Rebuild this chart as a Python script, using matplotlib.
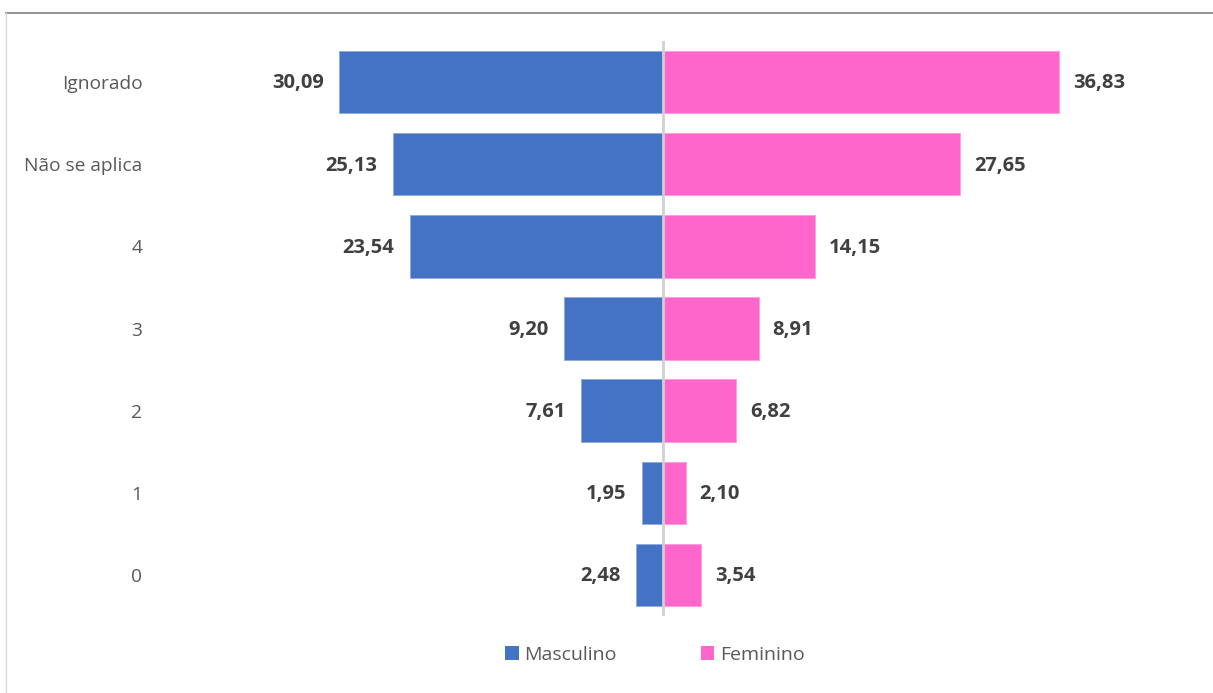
import matplotlib.pyplot as plt
import numpy as np
from matplotlib.lines import Line2D
from matplotlib.patches import Patch

plt.rcParams['font.family'] = ['Open Sans', 'DejaVu Sans']

# Dados (de baixo para cima)
categorias = ['0', '1', '2', '3', '4', 'Não se aplica', 'Ignorado']
masculino = [2.48, 1.95, 7.61, 9.20, 23.54, 25.13, 30.09]
feminino = [3.54, 2.10, 6.82, 8.91, 14.15, 27.65, 36.83]

cor_masc = '#4472C4'
cor_fem = '#FF66CC'
cinza_txt = '#595959'

W, H = 1213, 693
fig = plt.figure(figsize=(W / 100, H / 100), dpi=100)
ax = fig.add_axes([180 / W, (H - 616) / H, 966 / W, 575 / H])

y = np.arange(len(categorias))
altura = 0.76
b_m = ax.barh(y, [-v for v in masculino], altura, color=cor_masc, edgecolor='#8FAADC', linewidth=0.6)
b_f = ax.barh(y, feminino, altura, color=cor_fem, edgecolor='#FF99DD', linewidth=0.6)

def fmt(v):
    return f'{v:.2f}'.replace('.', ',')

for barra, v in zip(b_m, masculino):
    ax.annotate(fmt(v), xy=(-v, barra.get_y() + barra.get_height() / 2),
                xytext=(-11, -1), textcoords='offset points',
                ha='right', va='center', fontsize=14.5, fontweight='bold', color='#404040')
for barra, v in zip(b_f, feminino):
    ax.annotate(fmt(v), xy=(v, barra.get_y() + barra.get_height() / 2),
                xytext=(10, -1), textcoords='offset points',
                ha='left', va='center', fontsize=14.5, fontweight='bold', color='#404040')

ax.axvline(0, color='#D0D0D0', linewidth=2, zorder=3)

ax.set_xlim(-44.9, 44.9)
ax.set_ylim(-0.5, 6.5)
ax.set_yticks(y)
ax.set_yticklabels(categorias)
ax.tick_params(axis='y', length=0, pad=27, labelsize=13.8, labelcolor=cinza_txt)
ax.set_xticks([])
for s in ax.spines.values():
    s.set_visible(False)

# Legenda
handles = [Patch(facecolor=cor_masc, label='Masculino'),
           Patch(facecolor=cor_fem, label='Feminino')]
fig.legend(handles=handles, loc='center', bbox_to_anchor=(655 / W, (H - 655) / H),
           ncol=2, frameon=False, fontsize=14, labelcolor=cinza_txt,
           handlelength=0.7, handleheight=0.7, handletextpad=0.3, columnspacing=4.3)

# Moldura (cortada)
fig.add_artist(Line2D([6 / W, 1], [(H - 13) / H, (H - 13) / H], color='#808080', linewidth=1.2))
fig.add_artist(Line2D([6 / W, 6 / W], [0, (H - 13) / H], color='#D9D9D9', linewidth=1))

fig.savefig('out.png', dpi=100)
